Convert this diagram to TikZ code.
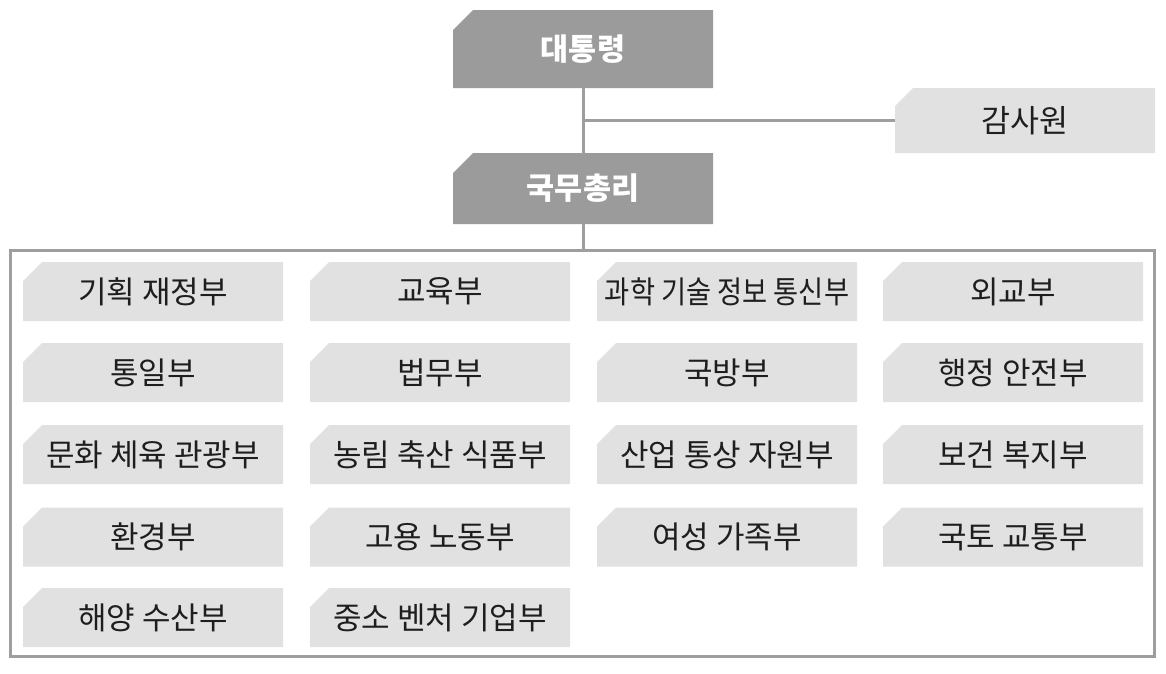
\documentclass[tikz,border=0pt]{standalone}
\usepackage{fontspec}
\newfontfamily\kr{Noto Sans CJK KR}
\definecolor{darkbox}{HTML}{9B9B9B}
\definecolor{lightbox}{HTML}{E1E1E1}
\definecolor{linegray}{HTML}{9E9E9E}
\definecolor{txt}{HTML}{1E1E1E}
\tikzset{
  chamf/.style n args={2}{fill=none, inner sep=0pt, path picture={
    \fill[#1] (path picture bounding box.south west)
      -- ([yshift=-#2]path picture bounding box.north west)
      -- ([xshift=#2]path picture bounding box.north west)
      -- (path picture bounding box.north east)
      -- (path picture bounding box.south east) -- cycle;}},
  topbox/.style={chamf={darkbox}{20pt}, minimum width=260pt, text=white, font=\kr\bfseries\fontsize{30.5pt}{34pt}\selectfont},
  minbox/.style={chamf={lightbox}{19pt}, minimum width=260pt, minimum height=59pt, text=txt, font=\kr\fontsize{31pt}{34pt}\selectfont},
  conn/.style={draw=linegray, line width=3pt},
}
\begin{document}
\begin{tikzpicture}[x=1pt,y=-1pt]
\useasboundingbox (0,0) rectangle (1166,673);
\fill[white] (0,0) rectangle (1166,673);
\node[topbox, minimum height=78pt] (p) at (583,49) {대통령};
\node[topbox, minimum height=71pt] (pm) at (583,188.5) {국무총리};
\node[chamf={lightbox}{18pt}, minimum width=260pt, minimum height=65pt, text=txt, font=\kr\fontsize{31.5pt}{34pt}\selectfont] (g) at (1025,120.5) {감사원};
\node[conn, minimum width=1144pt, minimum height=406pt, inner sep=0pt] (frame) at (582,453) {};
\draw[conn] (p.south) -- (pm.north);
\draw[conn] (p.south |- g.west) -- (g.west);
\draw[conn] (pm.south) -- (pm.south |- frame.north);
% row 1
\node[minbox] (m11) at (153,291.5) {기획 재정부};
\node[minbox] (m12) at (440,291.5) {교육부};
\node[minbox] (m13) at (727,291.5) {\scalebox{0.88}[1]{과학 기술 정보 통신부}};
\node[minbox] (m14) at (1013,291.5) {외교부};
% row 2
\node[minbox] (m21) at (153,372.5) {통일부};
\node[minbox] (m22) at (440,372.5) {법무부};
\node[minbox] (m23) at (727,372.5) {국방부};
\node[minbox] (m24) at (1013,372.5) {행정 안전부};
% row 3
\node[minbox] (m31) at (153,454.5) {문화 체육 관광부};
\node[minbox] (m32) at (440,454.5) {농림 축산 식품부};
\node[minbox] (m33) at (727,454.5) {산업 통상 자원부};
\node[minbox] (m34) at (1013,454.5) {보건 복지부};
% row 4
\node[minbox] (m41) at (153,537) {환경부};
\node[minbox] (m42) at (440,537) {고용 노동부};
\node[minbox] (m43) at (727,537) {여성 가족부};
\node[minbox] (m44) at (1013,537) {국토 교통부};
% row 5
\node[minbox] (m51) at (153,617.5) {해양 수산부};
\node[minbox] (m52) at (440,617.5) {중소 벤처 기업부};
\end{tikzpicture}
\end{document}
